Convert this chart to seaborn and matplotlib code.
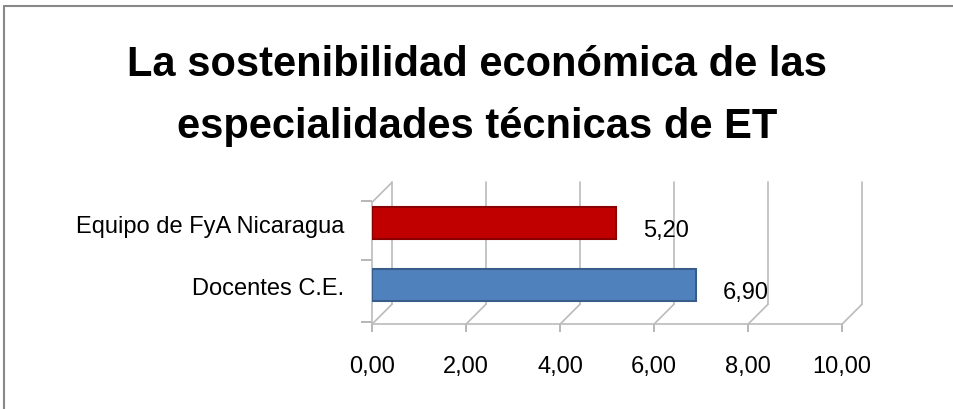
import matplotlib
matplotlib.use("Agg")
import matplotlib.pyplot as plt
import matplotlib.lines as mlines
import matplotlib.transforms as mtransforms
import seaborn as sns
import pandas as pd

# Datos
categorias = ["Equipo de FyA Nicaragua", "Docentes C.E."]
valores = [5.20, 6.90]
colores = ["#C00000", "#4F81BD"]
bordes = ["#8B0000", "#385D8A"]
ticks_x = [0, 2, 4, 6, 8, 10]
titulo_1 = "La sostenibilidad económica de las"
titulo_2 = "especialidades técnicas de ET"

sns.set_style("white")
plt.rcParams["font.family"] = ["Liberation Sans", "DejaVu Sans"]
plt.rcParams["text.color"] = "black"

df = pd.DataFrame({"categoria": categorias, "valor": valores})

fig = plt.figure(figsize=(9.54, 4.10), dpi=100)
ax = fig.add_axes([0.390, 0.207, 0.4927, 0.346])

sns.barplot(data=df, x="valor", y="categoria", hue="categoria",
            palette=colores, saturation=1, orient="h", width=0.52,
            legend=False, ax=ax, zorder=3)
for p, c in zip(ax.patches, bordes):
    p.set_edgecolor(c)
    p.set_linewidth(1.5)

ax.set_xlim(0, 10)
ax.set_ylim(1.63, -0.66)
ax.set_xticks(ticks_x)
ax.set_xticklabels([f"{t:.2f}".replace(".", ",") for t in ticks_x],
                   fontsize=17, color="black")
ax.set_yticks([0, 1])
ax.set_yticklabels(categorias, fontsize=17, color="black")
ax.set_yticks([-0.35, 0.6, 1.6], minor=True)
ax.tick_params(axis="y", which="major", left=False, length=0, pad=20)
ax.tick_params(axis="y", which="minor", left=True, length=8, width=1.2,
               color="#AAAAAA")
ax.tick_params(axis="x", bottom=True, length=6, width=1.2, pad=16,
               color="#AAAAAA")
ax.set_xlabel("")
ax.set_ylabel("")

for s in ["top", "right", "left"]:
    ax.spines[s].set_visible(False)
ax.spines["bottom"].set_color("#BBBBBB")
ax.spines["bottom"].set_linewidth(1.2)

# rejilla en perspectiva (pared del fondo desplazada 20 px)
alto_px = 0.346 * 410
fondo = 20 / alto_px
desp = mtransforms.ScaledTranslation(0.2, 0, fig.dpi_scale_trans)
mezcla = mtransforms.blended_transform_factory(ax.transData, ax.transAxes)
linea = dict(arrowstyle="-", color="#BBBBBB", lw=1.2, shrinkA=0, shrinkB=0)
for t in ticks_x:
    ax.plot([t, t], [fondo, 1], transform=mezcla + desp,
            color="#BBBBBB", lw=1.2, zorder=1, clip_on=False)
    ax.annotate("", xy=(t, 0), xycoords=mezcla,
                xytext=(20, 20), textcoords="offset pixels", arrowprops=linea)
# pared izquierda
ax.plot([0, 0], [0, 1 - fondo], transform=mezcla,
        color="#BBBBBB", lw=1.2, zorder=1, clip_on=False)
ax.annotate("", xy=(0, 1 - fondo), xycoords=mezcla,
            xytext=(20, 20), textcoords="offset pixels", arrowprops=linea)

# etiquetas de valores
for p, v in zip(ax.patches, valores):
    ax.annotate(f"{v:.2f}".replace(".", ","),
                (p.get_x() + p.get_width(), p.get_y() + p.get_height() / 2),
                xytext=(19, -5), textcoords="offset points",
                va="center", ha="left", fontsize=17)

fig.text(0.5, 0.815, titulo_1, fontsize=30, fontweight="bold",
         ha="center", va="baseline")
fig.text(0.5, 0.664, titulo_2, fontsize=30, fontweight="bold",
         ha="center", va="baseline")

# marco del gráfico
fig.add_artist(mlines.Line2D([0.004, 1.0], [0.983, 0.983], color="#888888", linewidth=1.5))
fig.add_artist(mlines.Line2D([0.004, 0.004], [0.0, 0.983], color="#888888", linewidth=1.5))

fig.savefig("out.png", dpi=100, facecolor="white")
